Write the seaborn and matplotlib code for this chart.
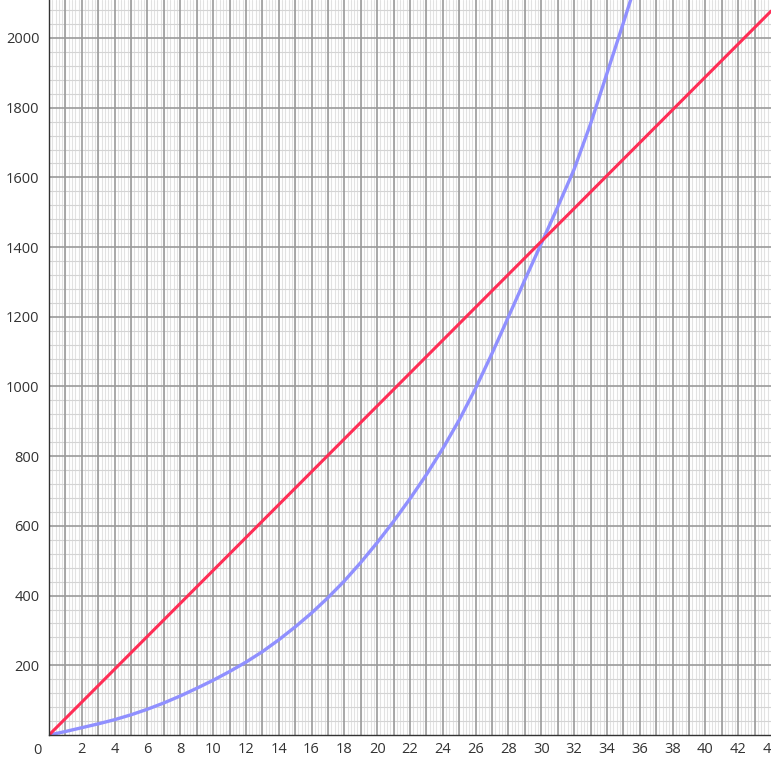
import numpy as np
import pandas as pd
import matplotlib
matplotlib.use("Agg")
import matplotlib.pyplot as plt
from matplotlib.ticker import MultipleLocator
import seaborn as sns

# values
curve_x = [0, 1, 2, 3, 4, 5, 6, 7, 8, 9, 10, 11, 12, 13, 14, 15, 16, 17, 18,
           19, 20, 21, 22, 23, 24, 25, 26, 27, 28, 29, 30, 31, 32, 33, 34, 35, 36]
curve_y = [0, 10, 21, 32, 44, 58, 74, 92, 112, 134, 157, 182, 209, 239, 273, 310,
           350, 394, 442, 495, 552, 613, 678, 747, 822, 904, 995, 1095, 1200,
           1306, 1410, 1515, 1623, 1753, 1898, 2043, 2191]
line_x = [0, 44]
line_y = [0, 2077]
x_ticks = [2, 4, 6, 8, 10, 12, 14, 16, 18, 20, 22, 24, 26, 28, 30, 32, 34, 36, 38, 40, 42, 44]
y_ticks = [200, 400, 600, 800, 1000, 1200, 1400, 1600, 1800, 2000]

sns.set_style("white")
plt.rcParams['font.family'] = ['Open Sans', 'DejaVu Sans']

fig = plt.figure(figsize=(7.71, 7.71), dpi=100)
ax = fig.add_axes([49/771, 36/771, 722/771, 735/771])

ax.set_xlim(0, 43.76)
ax.set_ylim(0, 2109)

# graph-paper grid: light minor lines, darker major lines on top
ax.xaxis.set_minor_locator(MultipleLocator(0.2))
ax.yaxis.set_minor_locator(MultipleLocator(40))
ax.set_axisbelow(True)
ax.grid(which='minor', axis='x', color='#e2e2e2', lw=0.8)
ax.grid(which='minor', axis='y', color='#d4d4d4', lw=0.8)
for v in np.arange(1, 44, 1):
    ax.axvline(v, color='#9a9a9a', lw=1.2, zorder=1)
for v in y_ticks:
    ax.axhline(v, color='#9a9a9a', lw=1.2, zorder=1)

curve = pd.DataFrame({'x': curve_x, 'y': curve_y})
straight = pd.DataFrame({'x': line_x, 'y': line_y})
sns.lineplot(data=curve, x='x', y='y', ax=ax, color='#9090ff', lw=2.4, zorder=3)
sns.lineplot(data=straight, x='x', y='y', ax=ax, color='#ff2d55', lw=2.2, zorder=4)

ax.set_xticks(x_ticks)
ax.set_yticks(y_ticks)
ax.set_xticklabels([str(t) for t in x_ticks])
ax.set_yticklabels([str(t) for t in y_ticks])
ax.tick_params(axis='x', which='major', length=4, width=1, color='#333333',
               labelsize=10.5, labelcolor='#333333', pad=1)
ax.tick_params(axis='y', which='major', length=0, labelsize=10.5,
               labelcolor='#333333', pad=7)
ax.tick_params(which='minor', length=0)
ax.set_xlabel('')
ax.set_ylabel('')
ax.text(-0.45, -22, '0', fontsize=10.5, color='#333333', ha='right', va='top')

for s in ['top', 'right']:
    ax.spines[s].set_visible(False)
for s in ['left', 'bottom']:
    ax.spines[s].set_color('#333333')
    ax.spines[s].set_linewidth(1)
    ax.spines[s].set_zorder(5)

fig.savefig('out.png', dpi=100)
